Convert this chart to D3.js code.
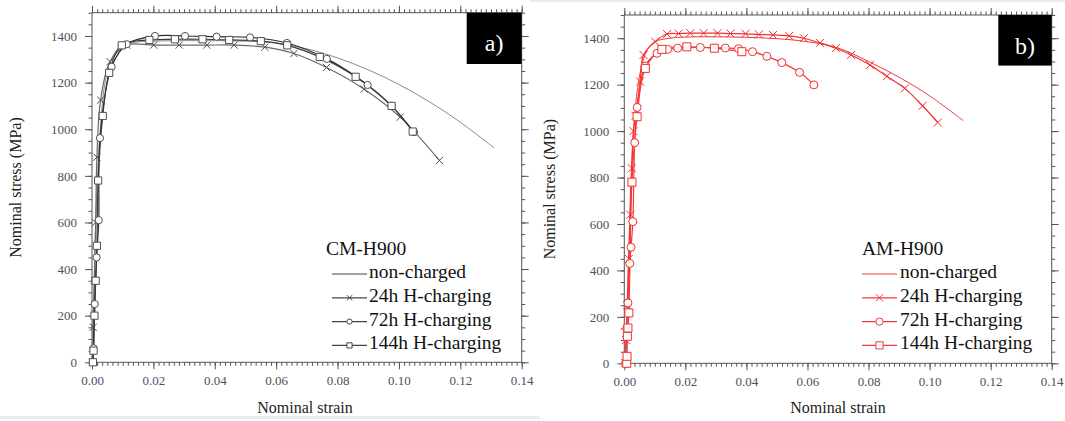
<!DOCTYPE html>
<html>
<head>
<meta charset="utf-8">
<script src="https://cdn.jsdelivr.net/npm/d3@7"></script>
<style>
  body { margin: 0; background: #fff; }
</style>
</head>
<body>
<div id="chart"></div>
<script>
// values, [strain, stress MPa]
const strainTicks = [0, 0.02, 0.04, 0.06, 0.08, 0.10, 0.12, 0.14]
const stressTicks = [0, 200, 400, 600, 800, 1000, 1200, 1400]
const seriesNames = ["non-charged", "24h H-charging", "72h H-charging", "144h H-charging"]
const panelTitles = ["CM-H900", "AM-H900"]
const panelTags = ["a)", "b)"]

const cmNonCharged = [[0.0002, 0], [0.0006, 300], [0.0012, 600], [0.002, 850], [0.003, 1050], [0.004, 1180], [0.0055, 1270], [0.0075, 1330], [0.01, 1360], [0.015, 1375], [0.02, 1378], [0.03, 1380], [0.04, 1380], [0.05, 1378], [0.06, 1370], [0.07, 1345], [0.08, 1306], [0.09, 1255], [0.1, 1192], [0.11, 1117], [0.12, 1030], [0.131, 920]]
const cm24h = [[0.0002, 0], [0.0004, 150], [0.0008, 350], [0.0012, 600], [0.0016, 880], [0.0028, 1125], [0.0059, 1290], [0.0113, 1361], [0.0201, 1361], [0.0284, 1361], [0.0374, 1361], [0.0463, 1361], [0.0563, 1352], [0.0658, 1325], [0.0764, 1265], [0.0887, 1172], [0.1004, 1052], [0.1132, 866]]
const cm72h = [[0.0003, 0], [0.0005, 60], [0.0009, 250], [0.0015, 450], [0.0022, 610], [0.0026, 962], [0.0064, 1268], [0.0113, 1365], [0.0205, 1400], [0.0303, 1400], [0.0406, 1397], [0.0515, 1394], [0.0635, 1370], [0.0765, 1302], [0.0898, 1190], [0.0976, 1100], [0.1049, 988]]
const cm144h = [[0.0003, 0], [0.0005, 50], [0.0008, 200], [0.0012, 350], [0.0016, 500], [0.002, 780], [0.0035, 1057], [0.0056, 1242], [0.0097, 1360], [0.0187, 1383], [0.027, 1386], [0.036, 1386], [0.0447, 1383], [0.055, 1378], [0.0636, 1360], [0.0742, 1310], [0.0859, 1225], [0.0976, 1100], [0.1045, 990]]

const amNonCharged = [[0.0003, 0], [0.0008, 200], [0.0015, 500], [0.0022, 800], [0.003, 1000], [0.004, 1150], [0.0055, 1270], [0.0075, 1350], [0.01, 1385], [0.015, 1400], [0.02, 1405], [0.03, 1406], [0.04, 1404], [0.05, 1398], [0.06, 1385], [0.07, 1358], [0.08, 1300], [0.09, 1232], [0.1, 1152], [0.111, 1045]]
const am24h = [[0.0003, 0], [0.0006, 100], [0.001, 250], [0.0015, 450], [0.002, 640], [0.0025, 840], [0.003, 1000], [0.0037, 1066], [0.0052, 1213], [0.0063, 1328], [0.0101, 1385], [0.014, 1418], [0.0178, 1420], [0.0216, 1422], [0.026, 1422], [0.0305, 1422], [0.0348, 1420], [0.0397, 1419], [0.0441, 1416], [0.0487, 1414], [0.054, 1410], [0.0588, 1400], [0.0641, 1380], [0.0693, 1357], [0.0743, 1328], [0.0805, 1285], [0.086, 1236], [0.0919, 1184], [0.0977, 1109], [0.1027, 1037]]
const am72h = [[0.0004, 0], [0.0008, 150], [0.0012, 260], [0.0018, 430], [0.0022, 500], [0.0028, 610], [0.0034, 950], [0.0042, 1102], [0.0068, 1280], [0.0107, 1335], [0.0142, 1352], [0.0175, 1357], [0.0249, 1360], [0.0331, 1358], [0.0374, 1355], [0.042, 1342], [0.0467, 1322], [0.0516, 1295], [0.0574, 1253], [0.0621, 1199]]
const am144h = [[0.0008, 0], [0.0009, 30], [0.001, 116], [0.0012, 152], [0.0015, 217], [0.0025, 780], [0.0042, 1062], [0.0069, 1270], [0.0123, 1352], [0.0205, 1363], [0.0295, 1357], [0.0385, 1342]]

const W = 1065, H = 421
const SERIF = "'Liberation Serif', 'DejaVu Serif', serif"

const svg = d3.select("#chart").append("svg")
    .attr("width", W)
    .attr("height", H)
    .attr("font-family", SERIF)

// faint scan edges seen in the figure
svg.append("rect").attr("x", 0).attr("y", 416).attr("width", 540).attr("height", 3).attr("fill", "#ececec")
svg.append("rect").attr("x", 530).attr("y", 0).attr("width", 535).attr("height", 2).attr("fill", "#ececec")

const panels = [
    {
        left: 92, right: 521.7, top: 12.7, bottom: 362.3,
        data: [cmNonCharged, cm24h, cm72h, cm144h],
        colors: ["#8a8a8a", "#6a6a6a", "#2a2a2a", "#3a3a3a"],
        markerStroke: "#505050", markSize: 3.6,
        legendColor: "#444",
        title: panelTitles[0], tag: panelTags[0],
        legX: 326, lineX0: 332, lineX1: 367, textX: 369, legMark: 2.6,
        yTitleX: 21, xTitleX: 305
    },
    {
        left: 624.3, right: 1051.7, top: 15, bottom: 363.3,
        data: [amNonCharged, am24h, am72h, am144h],
        colors: ["#f23a3a", "#f23030", "#f23a3a", "#f23a3a"],
        markerStroke: "#f23030", markSize: 4,
        legendColor: "#f23a3a",
        title: panelTitles[1], tag: panelTags[1],
        legX: 862, lineX0: 862, lineX1: 897, textX: 900, legMark: 3.6,
        yTitleX: 555, xTitleX: 838
    }
]
const markerTypes = [null, "x", "circle", "square"]

function markerPath(type, s) {
    if (type === "x") return `M${-s},${-s}L${s},${s}M${-s},${s}L${s},${-s}`
    if (type === "square") return `M${-s},${-s}H${s}V${s}H${-s}Z`
    return `M${s},0A${s},${s} 0 1,1 ${-s},0A${s},${s} 0 1,1 ${s},0Z`
}

panels.forEach((p, pi) => {
    const g = svg.append("g")

    const x = d3.scaleLinear().domain([0, 0.14]).range([p.left, p.right])
    const y = d3.scaleLinear().domain([0, 1500]).range([p.bottom, p.top])

    const minorX = d3.range(0, 0.14 + 1e-9, 0.02 / 12)
    const minorY = d3.range(0, 1501, 50)

    // ticks on all four sides, pointing outward
    const addAxis = (axis, tr, cls) => {
        const a = g.append("g").attr("class", cls).attr("transform", tr).call(axis)
        a.attr("font-family", SERIF)
        a.select(".domain").remove()
        a.selectAll("line").attr("stroke", "#555").attr("stroke-width", 1)
        a.selectAll("text")
            .attr("fill", "#4e5060")
            .attr("font-size", "13px")
        return a
    }
    addAxis(d3.axisBottom(x).tickValues(minorX).tickSize(3.5).tickFormat(""), `translate(0,${p.bottom})`, "minor")
    addAxis(d3.axisTop(x).tickValues(minorX).tickSize(3.5).tickFormat(""), `translate(0,${p.top})`, "minor")
    addAxis(d3.axisLeft(y).tickValues(minorY).tickSize(3.5).tickFormat(""), `translate(${p.left},0)`, "minor")
    addAxis(d3.axisRight(y).tickValues(minorY).tickSize(3.5).tickFormat(""), `translate(${p.right},0)`, "minor")

    addAxis(d3.axisBottom(x).tickValues(strainTicks).tickSize(7).tickPadding(6).tickFormat(d3.format(".2f")),
        `translate(0,${p.bottom})`, "x axis")
    addAxis(d3.axisTop(x).tickValues(strainTicks).tickSize(7).tickFormat(""), `translate(0,${p.top})`, "x2")
    addAxis(d3.axisLeft(y).tickValues(stressTicks).tickSize(7).tickPadding(8).tickFormat(d3.format("d")),
        `translate(${p.left},0)`, "y axis")
    addAxis(d3.axisRight(y).tickValues(stressTicks).tickSize(7).tickFormat(""), `translate(${p.right},0)`, "y2")

    // frame
    g.append("rect")
        .attr("x", p.left).attr("y", p.top)
        .attr("width", p.right - p.left).attr("height", p.bottom - p.top)
        .attr("fill", "none").attr("stroke", "#555").attr("stroke-width", 1)

    // curves
    const line = d3.line()
        .x(d => x(d[0]))
        .y(d => y(d[1]))
        .curve(d3.curveCatmullRom.alpha(0.5))

    p.data.forEach((ser, si) => {
        g.append("path")
            .datum(ser)
            .attr("d", line)
            .attr("fill", "none")
            .attr("stroke", p.colors[si])
            .attr("stroke-width", si === 0 ? 1 : 1.2)
    })
    p.data.forEach((ser, si) => {
        const type = markerTypes[si]
        if (!type) return
        g.selectAll(`.m${si}`)
            .data(ser)
            .enter().append("path")
            .attr("class", `m${si}`)
            .attr("transform", d => `translate(${x(d[0])},${y(d[1])})`)
            .attr("d", markerPath(type, p.markSize))
            .attr("fill", type === "x" ? "none" : "#fff")
            .attr("stroke", p.markerStroke)
            .attr("stroke-width", 1)
    })

    // tag box
    const bw = pi === 0 ? 55 : 53.4
    const bh = pi === 0 ? 51.3 : 50.6
    g.append("rect")
        .attr("x", p.right - bw).attr("y", p.top)
        .attr("width", bw).attr("height", bh)
        .attr("fill", "#000")
    g.append("text")
        .attr("x", p.right - bw / 2).attr("y", p.top + 38.5)
        .attr("text-anchor", "middle")
        .attr("fill", "#fff")
        .attr("font-size", "24px")
        .text(p.tag)

    // legend
    g.append("text")
        .attr("x", p.legX).attr("y", 255)
        .attr("font-size", "19.5px")
        .attr("fill", "#111")
        .text(p.title)
    seriesNames.forEach((name, i) => {
        const by = 278 + i * 23.8
        g.append("line")
            .attr("x1", p.lineX0).attr("x2", p.lineX1)
            .attr("y1", by - 4).attr("y2", by - 4)
            .attr("stroke", p.legendColor).attr("stroke-width", 1.2)
        if (markerTypes[i]) {
            g.append("path")
                .attr("transform", `translate(${(p.lineX0 + p.lineX1) / 2},${by - 4})`)
                .attr("d", markerPath(markerTypes[i], p.legMark))
                .attr("fill", markerTypes[i] === "x" ? "none" : "#fff")
                .attr("stroke", p.legendColor)
        }
        g.append("text")
            .attr("x", p.textX).attr("y", by)
            .attr("font-size", "19.5px")
            .attr("fill", "#111")
            .text(name)
    })

    // axis titles
    g.append("text")
        .attr("transform", `translate(${p.yTitleX},${(p.top + p.bottom) / 2}) rotate(-90)`)
        .attr("text-anchor", "middle")
        .attr("font-size", "16px")
        .attr("fill", "#222")
        .text("Nominal stress (MPa)")
    g.append("text")
        .attr("x", p.xTitleX).attr("y", 413)
        .attr("text-anchor", "middle")
        .attr("font-size", "16px")
        .attr("fill", "#222")
        .text("Nominal strain")
})
</script>
</body>
</html>
